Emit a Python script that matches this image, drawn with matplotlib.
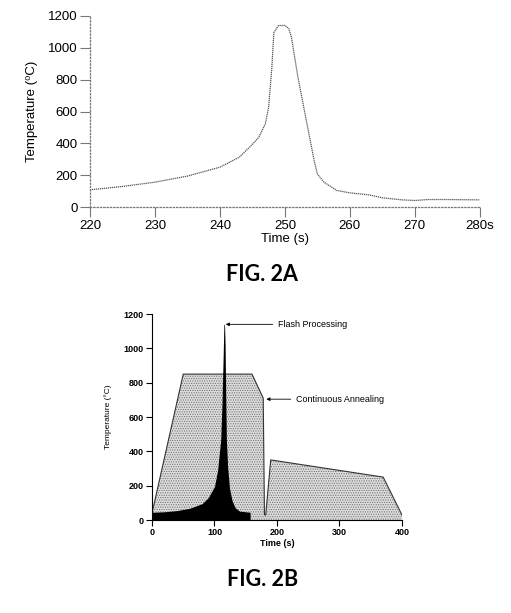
"""
FIG. 2A / FIG. 2B - temperature profiles
"""
import numpy as np
import matplotlib
matplotlib.use("Agg")
import matplotlib.pyplot as plt

plt.rcParams["font.family"] = ["Liberation Sans", "DejaVu Sans"]
plt.rcParams["hatch.linewidth"] = 0.5
plt.rcParams["hatch.color"] = "#6a6a6a"

# FIG. 2A - measured temperature around the flash
time_a = [220, 225, 230, 235, 240, 243, 245, 246, 247, 247.5, 248, 248.3, 249, 250,
          250.6, 251, 252, 253, 254, 254.5, 255, 256, 258, 260, 263, 265, 268, 270,
          272, 275, 280]
temp_a = [109, 130, 157, 195, 251, 314, 394, 440, 524, 628, 880, 1095, 1139, 1141,
          1120, 1068, 817, 607, 398, 293, 209, 157, 105, 90, 77, 59, 46, 42,
          48, 48, 46]
xticks_a = [220, 230, 240, 250, 260, 270, 280]
xlabels_a = ["220", "230", "240", "250", "260", "270", "280s"]
yticks = [0, 200, 400, 600, 800, 1000, 1200]

# FIG. 2B - continuous annealing envelope
anneal_x = [0, 0, 50, 160, 178, 180, 182, 190, 370, 400, 400]
anneal_y = [0, 40, 850, 850, 710, 30, 30, 350, 250, 30, 0]
# flash processing (black)
flash_x = [0, 20, 40, 60, 80, 90, 100, 105, 110, 112, 114, 115, 116, 117, 118, 119,
           121, 124, 128, 133, 140, 157]
flash_y = [45, 48, 55, 68, 95, 130, 195, 290, 470, 680, 970, 1140, 1140, 1020, 720,
           470, 310, 185, 115, 72, 52, 45]
xticks_b = [0, 100, 200, 300, 400]

fig = plt.figure(figsize=(5.11, 6.13), dpi=100)

# ---- FIG. 2A ----
ax1 = fig.add_axes([0.176, 0.662, 0.763, 0.312])
ax1.plot(time_a, temp_a, color="#555555", lw=0.9, ls=(0, (1, 0.6)))
ax1.set_xlim(220, 280)
ax1.set_ylim(0, 1200)
ax1.set_xticks(xticks_a)
ax1.set_xticklabels(xlabels_a)
ax1.set_yticks(yticks)
for s in ["top", "right"]:
    ax1.spines[s].set_visible(False)
for s in ["left", "bottom"]:
    ax1.spines[s].set_color("#777777")
    ax1.spines[s].set_linestyle(":")
    ax1.spines[s].set_linewidth(0.9)
ax1.tick_params(direction="out", length=7, width=0.8, color="#777777",
                labelsize=9.5, pad=2)
ax1.set_xlabel("Time (s)", fontsize=9.5, labelpad=1)
ax1.set_ylabel("Temperature (\u2070C)", fontsize=9.5, labelpad=7)
fig.text(0.513, 0.553, "FIG. 2A", fontsize=15.5, fontweight="bold",
         family=["Lato", "DejaVu Sans"], ha="center", va="center")

# ---- FIG. 2B ----
ax2 = fig.add_axes([0.2975, 0.1517, 0.489, 0.336])
ax2.fill(anneal_x, anneal_y, facecolor="#dcdcdc", hatch=".......",
         edgecolor="#6a6a6a", lw=0, zorder=1)
ax2.plot(anneal_x[1:-1], anneal_y[1:-1], color="#333333", lw=0.8, zorder=2)
ax2.fill_between(flash_x, 0, flash_y, color="black", lw=0, zorder=3)
ax2.set_xlim(0, 400)
ax2.set_ylim(0, 1200)
ax2.set_xticks(xticks_b)
ax2.set_yticks(yticks)
for s in ["top", "right"]:
    ax2.spines[s].set_visible(False)
for s in ["left", "bottom"]:
    ax2.spines[s].set_linewidth(0.8)
ax2.tick_params(direction="out", length=4, width=0.8, labelsize=6.5, pad=2)
for lab in ax2.get_xticklabels() + ax2.get_yticklabels():
    lab.set_fontweight("bold")
ax2.set_xlabel("Time (s)", fontsize=6.5, fontweight="bold", labelpad=1)
ax2.set_ylabel("Temperature (\u00b0C)", fontsize=6, labelpad=8)

ax2.annotate("Flash Processing", xy=(118, 1140), xytext=(202, 1140),
             fontsize=6.5, va="center", ha="left",
             arrowprops=dict(arrowstyle="-|>", lw=0.6, color="black",
                             mutation_scale=5, shrinkA=2, shrinkB=0))
ax2.annotate("Continuous Annealing", xy=(183, 704), xytext=(231, 704),
             fontsize=6.5, va="center", ha="left",
             arrowprops=dict(arrowstyle="-|>", lw=0.6, color="black",
                             mutation_scale=5, shrinkA=2, shrinkB=0))
fig.text(0.513, 0.054, "FIG. 2B", fontsize=15.5, fontweight="bold",
         family=["Lato", "DejaVu Sans"], ha="center", va="center")

fig.savefig("out.png", dpi=100)
